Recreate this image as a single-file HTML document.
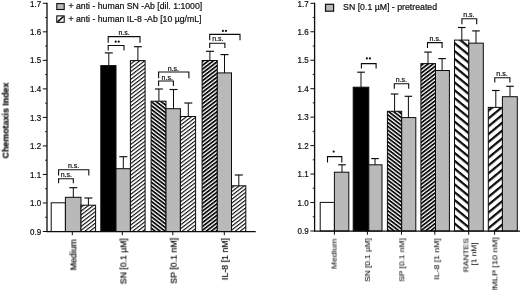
<!DOCTYPE html>
<html><head><meta charset="utf-8"><title>Chemotaxis index</title>
<style>
html,body{margin:0;padding:0;background:#fff;}
body{width:520px;height:290px;overflow:hidden;}
svg{display:block;font-family:"Liberation Sans",sans-serif;fill:#0c0c0c;}
text{filter:blur(0.3px);stroke:#0c0c0c;stroke-width:0.2px;}
text.r{stroke-width:0.05px;}
</style></head><body>
<svg width="520" height="290" viewBox="0 0 520 290">
<defs>
<pattern id="h0" patternUnits="userSpaceOnUse" width="40" height="3.043" patternTransform="translate(81.16,210.31) rotate(-37.5)"><rect x="0" y="0" width="40" height="3.043" fill="#fff"/><rect x="0" y="0" width="40" height="1.111" fill="#0c0c0c"/></pattern>
<pattern id="h1" patternUnits="userSpaceOnUse" width="40" height="3.043" patternTransform="translate(130.16,67.46) rotate(-37.5)"><rect x="0" y="0" width="40" height="3.043" fill="#fff"/><rect x="0" y="0" width="40" height="1.111" fill="#0c0c0c"/></pattern>
<pattern id="h2" patternUnits="userSpaceOnUse" width="40" height="3.043" patternTransform="translate(152.14,105.09) rotate(37.5)"><rect x="0" y="0" width="40" height="3.043" fill="#fff"/><rect x="0" y="0" width="40" height="1.785" fill="#0c0c0c"/></pattern>
<pattern id="h3" patternUnits="userSpaceOnUse" width="40" height="3.043" patternTransform="translate(180.66,120.46) rotate(-37.5)"><rect x="0" y="0" width="40" height="3.043" fill="#fff"/><rect x="0" y="0" width="40" height="1.111" fill="#0c0c0c"/></pattern>
<pattern id="h4" patternUnits="userSpaceOnUse" width="40" height="3.043" patternTransform="translate(202.16,64.49) rotate(-37.5)"><rect x="0" y="0" width="40" height="3.043" fill="#fff"/><rect x="0" y="0" width="40" height="1.785" fill="#0c0c0c"/></pattern>
<pattern id="h5" patternUnits="userSpaceOnUse" width="40" height="3.043" patternTransform="translate(231.66,190.96) rotate(-37.5)"><rect x="0" y="0" width="40" height="3.043" fill="#fff"/><rect x="0" y="0" width="40" height="1.111" fill="#0c0c0c"/></pattern>
<pattern id="h6" patternUnits="userSpaceOnUse" width="40" height="3.043" patternTransform="translate(388.54,114.34) rotate(37.5)"><rect x="0" y="0" width="40" height="3.043" fill="#fff"/><rect x="0" y="0" width="40" height="1.785" fill="#0c0c0c"/></pattern>
<pattern id="h7" patternUnits="userSpaceOnUse" width="40" height="3.043" patternTransform="translate(420.96,68.39) rotate(-37.5)"><rect x="0" y="0" width="40" height="3.043" fill="#fff"/><rect x="0" y="0" width="40" height="1.785" fill="#0c0c0c"/></pattern>
<pattern id="h8" patternUnits="userSpaceOnUse" width="40" height="6.050" patternTransform="translate(455.61,113.14) rotate(39.5)"><rect x="0" y="0" width="40" height="6.050" fill="#fff"/><rect x="0" y="0" width="40" height="2.238" fill="#0c0c0c"/></pattern>
<pattern id="h9" patternUnits="userSpaceOnUse" width="40" height="6.050" patternTransform="translate(487.99,125.24) rotate(-39.5)"><rect x="0" y="0" width="40" height="6.050" fill="#fff"/><rect x="0" y="0" width="40" height="2.238" fill="#0c0c0c"/></pattern>
</defs>
<rect x="0" y="0" width="520" height="290" fill="#fff"/>
<line x1="73.3" y1="187.7" x2="73.3" y2="197.3" stroke="#0c0c0c" stroke-width="1.0"/>
<line x1="69.3" y1="187.7" x2="77.3" y2="187.7" stroke="#0c0c0c" stroke-width="1.15"/>
<line x1="88.4" y1="198" x2="88.4" y2="205.2" stroke="#0c0c0c" stroke-width="1.0"/>
<line x1="84.4" y1="198" x2="92.4" y2="198" stroke="#0c0c0c" stroke-width="1.15"/>
<line x1="108.8" y1="52.9" x2="108.8" y2="65.6" stroke="#0c0c0c" stroke-width="1.0"/>
<line x1="104.8" y1="52.9" x2="112.8" y2="52.9" stroke="#0c0c0c" stroke-width="1.15"/>
<line x1="123.3" y1="156.7" x2="123.3" y2="168.7" stroke="#0c0c0c" stroke-width="1.0"/>
<line x1="119.3" y1="156.7" x2="127.3" y2="156.7" stroke="#0c0c0c" stroke-width="1.15"/>
<line x1="137.9" y1="46.7" x2="137.9" y2="60.7" stroke="#0c0c0c" stroke-width="1.0"/>
<line x1="133.9" y1="46.7" x2="141.9" y2="46.7" stroke="#0c0c0c" stroke-width="1.15"/>
<line x1="158.9" y1="89" x2="158.9" y2="101.4" stroke="#0c0c0c" stroke-width="1.0"/>
<line x1="154.9" y1="89" x2="162.9" y2="89" stroke="#0c0c0c" stroke-width="1.15"/>
<line x1="173.5" y1="89.5" x2="173.5" y2="108.9" stroke="#0c0c0c" stroke-width="1.0"/>
<line x1="169.5" y1="89.5" x2="177.5" y2="89.5" stroke="#0c0c0c" stroke-width="1.15"/>
<line x1="188.3" y1="103" x2="188.3" y2="116.7" stroke="#0c0c0c" stroke-width="1.0"/>
<line x1="184.3" y1="103" x2="192.3" y2="103" stroke="#0c0c0c" stroke-width="1.15"/>
<line x1="209.9" y1="51.3" x2="209.9" y2="60.6" stroke="#0c0c0c" stroke-width="1.0"/>
<line x1="205.9" y1="51.3" x2="213.9" y2="51.3" stroke="#0c0c0c" stroke-width="1.15"/>
<line x1="224.5" y1="54.6" x2="224.5" y2="73.5" stroke="#0c0c0c" stroke-width="1.0"/>
<line x1="220.5" y1="54.6" x2="228.5" y2="54.6" stroke="#0c0c0c" stroke-width="1.15"/>
<line x1="238.8" y1="175" x2="238.8" y2="185.8" stroke="#0c0c0c" stroke-width="1.0"/>
<line x1="234.8" y1="175" x2="242.8" y2="175" stroke="#0c0c0c" stroke-width="1.15"/>
<rect x="51.2" y="202.8" width="14.20" height="28.70" fill="#fff" stroke="#0c0c0c" stroke-width="1"/>
<rect x="65.4" y="197.3" width="15.60" height="34.20" fill="#b9b9b9" stroke="#0c0c0c" stroke-width="1"/>
<rect x="81.0" y="205.2" width="14.60" height="26.30" fill="url(#h0)" stroke="#0c0c0c" stroke-width="1"/>
<rect x="100.8" y="65.6" width="15.20" height="165.90" fill="#000" stroke="#0c0c0c" stroke-width="1"/>
<rect x="116" y="168.7" width="14.40" height="62.80" fill="#b9b9b9" stroke="#0c0c0c" stroke-width="1"/>
<rect x="130.4" y="60.6" width="14.70" height="170.90" fill="url(#h1)" stroke="#0c0c0c" stroke-width="1"/>
<rect x="151.1" y="101.2" width="14.90" height="130.30" fill="url(#h2)" stroke="#0c0c0c" stroke-width="1"/>
<rect x="166" y="108.7" width="14.40" height="122.80" fill="#b9b9b9" stroke="#0c0c0c" stroke-width="1"/>
<rect x="180.4" y="116.5" width="15.20" height="115.00" fill="url(#h3)" stroke="#0c0c0c" stroke-width="1"/>
<rect x="202.1" y="60.5" width="15.20" height="171.00" fill="url(#h4)" stroke="#0c0c0c" stroke-width="1"/>
<rect x="217.3" y="72.9" width="14.20" height="158.60" fill="#b9b9b9" stroke="#0c0c0c" stroke-width="1"/>
<rect x="231.5" y="185.8" width="14.30" height="45.70" fill="url(#h5)" stroke="#0c0c0c" stroke-width="1"/>
<line x1="46.4" y1="231.5" x2="255.7" y2="231.5" stroke="#0c0c0c" stroke-width="1.25"/>
<line x1="47" y1="2.8" x2="47" y2="232.0" stroke="#0c0c0c" stroke-width="1.3"/>
<line x1="42.8" y1="231.5" x2="47" y2="231.5" stroke="#0c0c0c" stroke-width="1.0"/>
<text x="41.1" y="234.6" font-size="8.4" text-anchor="end" font-weight="normal" textLength="11.1" lengthAdjust="spacingAndGlyphs">0.9</text>
<line x1="45.1" y1="217.2375" x2="47" y2="217.2375" stroke="#0c0c0c" stroke-width="0.9"/>
<line x1="42.8" y1="202.975" x2="47" y2="202.975" stroke="#0c0c0c" stroke-width="1.0"/>
<text x="41.1" y="206.075" font-size="8.4" text-anchor="end" font-weight="normal" textLength="11.1" lengthAdjust="spacingAndGlyphs">1.0</text>
<line x1="45.1" y1="188.7125" x2="47" y2="188.7125" stroke="#0c0c0c" stroke-width="0.9"/>
<line x1="42.8" y1="174.45" x2="47" y2="174.45" stroke="#0c0c0c" stroke-width="1.0"/>
<text x="41.1" y="177.54999999999998" font-size="8.4" text-anchor="end" font-weight="normal" textLength="11.1" lengthAdjust="spacingAndGlyphs">1.1</text>
<line x1="45.1" y1="160.1875" x2="47" y2="160.1875" stroke="#0c0c0c" stroke-width="0.9"/>
<line x1="42.8" y1="145.925" x2="47" y2="145.925" stroke="#0c0c0c" stroke-width="1.0"/>
<text x="41.1" y="149.025" font-size="8.4" text-anchor="end" font-weight="normal" textLength="11.1" lengthAdjust="spacingAndGlyphs">1.2</text>
<line x1="45.1" y1="131.66250000000002" x2="47" y2="131.66250000000002" stroke="#0c0c0c" stroke-width="0.9"/>
<line x1="42.8" y1="117.4" x2="47" y2="117.4" stroke="#0c0c0c" stroke-width="1.0"/>
<text x="41.1" y="120.5" font-size="8.4" text-anchor="end" font-weight="normal" textLength="11.1" lengthAdjust="spacingAndGlyphs">1.3</text>
<line x1="45.1" y1="103.1375" x2="47" y2="103.1375" stroke="#0c0c0c" stroke-width="0.9"/>
<line x1="42.8" y1="88.875" x2="47" y2="88.875" stroke="#0c0c0c" stroke-width="1.0"/>
<text x="41.1" y="91.975" font-size="8.4" text-anchor="end" font-weight="normal" textLength="11.1" lengthAdjust="spacingAndGlyphs">1.4</text>
<line x1="45.1" y1="74.6125" x2="47" y2="74.6125" stroke="#0c0c0c" stroke-width="0.9"/>
<line x1="42.8" y1="60.35000000000002" x2="47" y2="60.35000000000002" stroke="#0c0c0c" stroke-width="1.0"/>
<text x="41.1" y="63.450000000000024" font-size="8.4" text-anchor="end" font-weight="normal" textLength="11.1" lengthAdjust="spacingAndGlyphs">1.5</text>
<line x1="45.1" y1="46.08750000000002" x2="47" y2="46.08750000000002" stroke="#0c0c0c" stroke-width="0.9"/>
<line x1="42.8" y1="31.825000000000017" x2="47" y2="31.825000000000017" stroke="#0c0c0c" stroke-width="1.0"/>
<text x="41.1" y="34.92500000000002" font-size="8.4" text-anchor="end" font-weight="normal" textLength="11.1" lengthAdjust="spacingAndGlyphs">1.6</text>
<line x1="45.1" y1="17.562500000000018" x2="47" y2="17.562500000000018" stroke="#0c0c0c" stroke-width="0.9"/>
<line x1="42.8" y1="3.3000000000000114" x2="47" y2="3.3000000000000114" stroke="#0c0c0c" stroke-width="1.0"/>
<text x="41.1" y="6.900000000000011" font-size="8.4" text-anchor="end" font-weight="normal" textLength="11.1" lengthAdjust="spacingAndGlyphs">1.7</text>
<line x1="72.3" y1="231.5" x2="72.3" y2="235.2" stroke="#0c0c0c" stroke-width="1.0"/>
<line x1="122.3" y1="231.5" x2="122.3" y2="235.2" stroke="#0c0c0c" stroke-width="1.0"/>
<line x1="172.8" y1="231.5" x2="172.8" y2="235.2" stroke="#0c0c0c" stroke-width="1.0"/>
<line x1="224.3" y1="231.5" x2="224.3" y2="235.2" stroke="#0c0c0c" stroke-width="1.0"/>
<polyline points="58.6,175.6 58.6,169.8 88.8,169.8 88.8,175.6" fill="none" stroke="#0c0c0c" stroke-width="1.1"/>
<polyline points="58.6,183.3 58.6,178.7 73.3,178.7 73.3,183.3" fill="none" stroke="#0c0c0c" stroke-width="1.1"/>
<polyline points="108.2,42.8 108.2,36.6 140,36.6 140,42.8" fill="none" stroke="#0c0c0c" stroke-width="1.1"/>
<polyline points="108.2,50.6 108.2,45.5 124,45.5 124,50.6" fill="none" stroke="#0c0c0c" stroke-width="1.1"/>
<polyline points="158.6,78.2 158.6,72 188.9,72 188.9,78.2" fill="none" stroke="#0c0c0c" stroke-width="1.1"/>
<polyline points="158.6,86 158.6,81 173.4,81 173.4,86" fill="none" stroke="#0c0c0c" stroke-width="1.1"/>
<polyline points="209.7,40.2 209.7,34.4 240,34.4 240,40.2" fill="none" stroke="#0c0c0c" stroke-width="1.1"/>
<polyline points="209.7,47.9 209.7,43.3 224.9,43.3 224.9,47.9" fill="none" stroke="#0c0c0c" stroke-width="1.1"/>
<text x="73.6" y="167.8" font-size="7.0" text-anchor="middle" font-weight="normal" >n.s.</text>
<text x="66.3" y="176.8" font-size="7.0" text-anchor="middle" font-weight="normal" >n.s.</text>
<text x="124.1" y="35.0" font-size="7.0" text-anchor="middle" font-weight="normal" >n.s.</text>
<circle cx="115.68" cy="41.7" r="1.08" fill="#0c0c0c"/>
<circle cx="118.72" cy="41.7" r="1.08" fill="#0c0c0c"/>
<text x="173.3" y="70.5" font-size="7.0" text-anchor="middle" font-weight="normal" >n.s.</text>
<text x="167.2" y="79.7" font-size="7.0" text-anchor="middle" font-weight="normal" >n.s.</text>
<circle cx="222.88" cy="30.9" r="1.08" fill="#0c0c0c"/>
<circle cx="225.92000000000002" cy="30.9" r="1.08" fill="#0c0c0c"/>
<text x="217.8" y="41.4" font-size="7.0" text-anchor="middle" font-weight="normal" >n.s.</text>
<rect x="56.8" y="3.6" width="7.4" height="5.9" fill="#b9b9b9" stroke="#0c0c0c" stroke-width="1.1"/>
<rect x="56.8" y="15.9" width="7.4" height="6.4" fill="#fff" stroke="#0c0c0c" stroke-width="1.1"/>
<line x1="57.5" y1="21.8" x2="63.5" y2="16.5" stroke="#0c0c0c" stroke-width="1.6"/>
<text x="68.5" y="9.2" font-size="8.7" text-anchor="start" font-weight="normal" textLength="133.7" lengthAdjust="spacingAndGlyphs">+ anti - human SN -Ab [dil. 1:1000]</text>
<text x="68.5" y="21.9" font-size="8.7" text-anchor="start" font-weight="normal" textLength="133.0" lengthAdjust="spacingAndGlyphs">+ anti - human IL-8 -Ab [10 µg/mL]</text>
<text transform="translate(76.4,239.3) rotate(-90)" font-size="8.6" text-anchor="end" font-weight="normal" textLength="31.0" lengthAdjust="spacingAndGlyphs">Medium</text>
<text transform="translate(126.4,238.3) rotate(-90)" font-size="8.6" text-anchor="end" font-weight="normal" textLength="45.9" lengthAdjust="spacingAndGlyphs">SN [0.1 µM]</text>
<text transform="translate(176.7,237.8) rotate(-90)" font-size="8.6" text-anchor="end" font-weight="normal" textLength="45.9" lengthAdjust="spacingAndGlyphs">SP [0.1 nM]</text>
<text transform="translate(227.9,238.1) rotate(-90)" font-size="8.6" text-anchor="end" font-weight="normal" textLength="41.9" lengthAdjust="spacingAndGlyphs">IL-8 [1 nM]</text>
<text transform="translate(8.6,120.5) rotate(-90)" font-size="8.4" text-anchor="middle" font-weight="bold" textLength="76" lengthAdjust="spacingAndGlyphs">Chemotaxis Index</text>
<line x1="342" y1="164.8" x2="342" y2="172.2" stroke="#0c0c0c" stroke-width="1.0"/>
<line x1="338.2" y1="164.8" x2="345.8" y2="164.8" stroke="#0c0c0c" stroke-width="1.15"/>
<line x1="361" y1="72.2" x2="361" y2="87.2" stroke="#0c0c0c" stroke-width="1.0"/>
<line x1="357.2" y1="72.2" x2="364.8" y2="72.2" stroke="#0c0c0c" stroke-width="1.15"/>
<line x1="375" y1="158.6" x2="375" y2="164.8" stroke="#0c0c0c" stroke-width="1.0"/>
<line x1="371.2" y1="158.6" x2="378.8" y2="158.6" stroke="#0c0c0c" stroke-width="1.15"/>
<line x1="394.6" y1="94" x2="394.6" y2="111.4" stroke="#0c0c0c" stroke-width="1.0"/>
<line x1="390.8" y1="94" x2="398.40000000000003" y2="94" stroke="#0c0c0c" stroke-width="1.15"/>
<line x1="408.4" y1="96.3" x2="408.4" y2="117.6" stroke="#0c0c0c" stroke-width="1.0"/>
<line x1="404.59999999999997" y1="96.3" x2="412.2" y2="96.3" stroke="#0c0c0c" stroke-width="1.15"/>
<line x1="428.0" y1="52.1" x2="428.0" y2="63.7" stroke="#0c0c0c" stroke-width="1.0"/>
<line x1="424.2" y1="52.1" x2="431.8" y2="52.1" stroke="#0c0c0c" stroke-width="1.15"/>
<line x1="442.1" y1="58.6" x2="442.1" y2="70.5" stroke="#0c0c0c" stroke-width="1.0"/>
<line x1="438.3" y1="58.6" x2="445.90000000000003" y2="58.6" stroke="#0c0c0c" stroke-width="1.15"/>
<line x1="461.8" y1="27.5" x2="461.8" y2="40.1" stroke="#0c0c0c" stroke-width="1.0"/>
<line x1="458.0" y1="27.5" x2="465.6" y2="27.5" stroke="#0c0c0c" stroke-width="1.15"/>
<line x1="476.0" y1="30.9" x2="476.0" y2="43.4" stroke="#0c0c0c" stroke-width="1.0"/>
<line x1="472.2" y1="30.9" x2="479.8" y2="30.9" stroke="#0c0c0c" stroke-width="1.15"/>
<line x1="495.8" y1="90.5" x2="495.8" y2="107.4" stroke="#0c0c0c" stroke-width="1.0"/>
<line x1="492.0" y1="90.5" x2="499.6" y2="90.5" stroke="#0c0c0c" stroke-width="1.15"/>
<line x1="510" y1="86.3" x2="510" y2="96.7" stroke="#0c0c0c" stroke-width="1.0"/>
<line x1="506.2" y1="86.3" x2="513.8" y2="86.3" stroke="#0c0c0c" stroke-width="1.15"/>
<rect x="320.2" y="202.4" width="14.20" height="28.60" fill="#fff" stroke="#0c0c0c" stroke-width="1"/>
<rect x="334.4" y="172.2" width="14.40" height="58.80" fill="#b9b9b9" stroke="#0c0c0c" stroke-width="1"/>
<rect x="353.2" y="87.2" width="15.60" height="143.80" fill="#000" stroke="#0c0c0c" stroke-width="1"/>
<rect x="368.8" y="164.8" width="13.20" height="66.20" fill="#b9b9b9" stroke="#0c0c0c" stroke-width="1"/>
<rect x="387.4" y="111.3" width="14.30" height="119.70" fill="url(#h6)" stroke="#0c0c0c" stroke-width="1"/>
<rect x="401.7" y="117.6" width="14.10" height="113.40" fill="#b9b9b9" stroke="#0c0c0c" stroke-width="1"/>
<rect x="420.9" y="63.6" width="14.60" height="167.40" fill="url(#h7)" stroke="#0c0c0c" stroke-width="1"/>
<rect x="435.5" y="70.5" width="13.90" height="160.50" fill="#b9b9b9" stroke="#0c0c0c" stroke-width="1"/>
<rect x="454.5" y="40.1" width="14.30" height="190.90" fill="url(#h8)" stroke="#0c0c0c" stroke-width="1"/>
<rect x="468.8" y="43.15" width="14.50" height="187.85" fill="#b9b9b9" stroke="#0c0c0c" stroke-width="1"/>
<rect x="488.3" y="107.4" width="14.10" height="123.60" fill="url(#h9)" stroke="#0c0c0c" stroke-width="1"/>
<rect x="502.4" y="96.7" width="14.90" height="134.30" fill="#b9b9b9" stroke="#0c0c0c" stroke-width="1"/>
<line x1="314.0" y1="231.0" x2="520" y2="231.0" stroke="#0c0c0c" stroke-width="1.25"/>
<line x1="314.6" y1="2.8" x2="314.6" y2="231.5" stroke="#0c0c0c" stroke-width="1.3"/>
<line x1="310.40000000000003" y1="231.0" x2="314.6" y2="231.0" stroke="#0c0c0c" stroke-width="1.0"/>
<text x="308.70000000000005" y="234.1" font-size="8.4" text-anchor="end" font-weight="normal" textLength="11.1" lengthAdjust="spacingAndGlyphs">0.9</text>
<line x1="312.70000000000005" y1="216.7375" x2="314.6" y2="216.7375" stroke="#0c0c0c" stroke-width="0.9"/>
<line x1="310.40000000000003" y1="202.5375" x2="314.6" y2="202.5375" stroke="#0c0c0c" stroke-width="1.0"/>
<text x="308.70000000000005" y="205.6375" font-size="8.4" text-anchor="end" font-weight="normal" textLength="11.1" lengthAdjust="spacingAndGlyphs">1.0</text>
<line x1="312.70000000000005" y1="188.275" x2="314.6" y2="188.275" stroke="#0c0c0c" stroke-width="0.9"/>
<line x1="310.40000000000003" y1="174.075" x2="314.6" y2="174.075" stroke="#0c0c0c" stroke-width="1.0"/>
<text x="308.70000000000005" y="177.17499999999998" font-size="8.4" text-anchor="end" font-weight="normal" textLength="11.1" lengthAdjust="spacingAndGlyphs">1.1</text>
<line x1="312.70000000000005" y1="159.8125" x2="314.6" y2="159.8125" stroke="#0c0c0c" stroke-width="0.9"/>
<line x1="310.40000000000003" y1="145.6125" x2="314.6" y2="145.6125" stroke="#0c0c0c" stroke-width="1.0"/>
<text x="308.70000000000005" y="148.7125" font-size="8.4" text-anchor="end" font-weight="normal" textLength="11.1" lengthAdjust="spacingAndGlyphs">1.2</text>
<line x1="312.70000000000005" y1="131.35000000000002" x2="314.6" y2="131.35000000000002" stroke="#0c0c0c" stroke-width="0.9"/>
<line x1="310.40000000000003" y1="117.15" x2="314.6" y2="117.15" stroke="#0c0c0c" stroke-width="1.0"/>
<text x="308.70000000000005" y="120.25" font-size="8.4" text-anchor="end" font-weight="normal" textLength="11.1" lengthAdjust="spacingAndGlyphs">1.3</text>
<line x1="312.70000000000005" y1="102.8875" x2="314.6" y2="102.8875" stroke="#0c0c0c" stroke-width="0.9"/>
<line x1="310.40000000000003" y1="88.6875" x2="314.6" y2="88.6875" stroke="#0c0c0c" stroke-width="1.0"/>
<text x="308.70000000000005" y="91.7875" font-size="8.4" text-anchor="end" font-weight="normal" textLength="11.1" lengthAdjust="spacingAndGlyphs">1.4</text>
<line x1="312.70000000000005" y1="74.425" x2="314.6" y2="74.425" stroke="#0c0c0c" stroke-width="0.9"/>
<line x1="310.40000000000003" y1="60.22500000000002" x2="314.6" y2="60.22500000000002" stroke="#0c0c0c" stroke-width="1.0"/>
<text x="308.70000000000005" y="63.325000000000024" font-size="8.4" text-anchor="end" font-weight="normal" textLength="11.1" lengthAdjust="spacingAndGlyphs">1.5</text>
<line x1="312.70000000000005" y1="45.96250000000002" x2="314.6" y2="45.96250000000002" stroke="#0c0c0c" stroke-width="0.9"/>
<line x1="310.40000000000003" y1="31.762500000000017" x2="314.6" y2="31.762500000000017" stroke="#0c0c0c" stroke-width="1.0"/>
<text x="308.70000000000005" y="34.86250000000002" font-size="8.4" text-anchor="end" font-weight="normal" textLength="11.1" lengthAdjust="spacingAndGlyphs">1.6</text>
<line x1="312.70000000000005" y1="17.500000000000018" x2="314.6" y2="17.500000000000018" stroke="#0c0c0c" stroke-width="0.9"/>
<line x1="310.40000000000003" y1="3.3000000000000114" x2="314.6" y2="3.3000000000000114" stroke="#0c0c0c" stroke-width="1.0"/>
<text x="308.70000000000005" y="6.900000000000011" font-size="8.4" text-anchor="end" font-weight="normal" textLength="11.1" lengthAdjust="spacingAndGlyphs">1.7</text>
<line x1="334.4" y1="231.0" x2="334.4" y2="234.7" stroke="#0c0c0c" stroke-width="1.0"/>
<line x1="367.4" y1="231.0" x2="367.4" y2="234.7" stroke="#0c0c0c" stroke-width="1.0"/>
<line x1="401.5" y1="231.0" x2="401.5" y2="234.7" stroke="#0c0c0c" stroke-width="1.0"/>
<line x1="434.8" y1="231.0" x2="434.8" y2="234.7" stroke="#0c0c0c" stroke-width="1.0"/>
<line x1="468.7" y1="231.0" x2="468.7" y2="234.7" stroke="#0c0c0c" stroke-width="1.0"/>
<line x1="494.6" y1="231.0" x2="494.6" y2="234.7" stroke="#0c0c0c" stroke-width="1.0"/>
<polyline points="327.5,162.5 327.5,156.6 341.8,156.6 341.8,162.5" fill="none" stroke="#0c0c0c" stroke-width="1.1"/>
<polyline points="361.4,68.6 361.4,63.6 376.1,63.6 376.1,68.6" fill="none" stroke="#0c0c0c" stroke-width="1.1"/>
<polyline points="394.3,88.8 394.3,83.8 408.7,83.8 408.7,88.8" fill="none" stroke="#0c0c0c" stroke-width="1.1"/>
<polyline points="427.5,48 427.5,42.6 442.1,42.6 442.1,48" fill="none" stroke="#0c0c0c" stroke-width="1.1"/>
<polyline points="461.9,24.3 461.9,18.8 476.7,18.8 476.7,24.3" fill="none" stroke="#0c0c0c" stroke-width="1.1"/>
<polyline points="494.8,82.6 494.8,77.8 509.9,77.8 509.9,82.6" fill="none" stroke="#0c0c0c" stroke-width="1.1"/>
<circle cx="333.7" cy="151.6" r="1.08" fill="#0c0c0c"/>
<circle cx="366.88" cy="58.4" r="1.08" fill="#0c0c0c"/>
<circle cx="369.91999999999996" cy="58.4" r="1.08" fill="#0c0c0c"/>
<text x="401.4" y="82.2" font-size="7.0" text-anchor="middle" font-weight="normal" >n.s.</text>
<text x="435.2" y="40.6" font-size="7.0" text-anchor="middle" font-weight="normal" >n.s.</text>
<text x="468.9" y="16.9" font-size="7.0" text-anchor="middle" font-weight="normal" >n.s.</text>
<text x="502" y="76.0" font-size="7.0" text-anchor="middle" font-weight="normal" >n.s.</text>
<rect x="325.5" y="4.3" width="8.1" height="6.9" fill="#b9b9b9" stroke="#0c0c0c" stroke-width="1.2"/>
<text x="343.1" y="10.3" font-size="8.7" text-anchor="start" font-weight="normal" textLength="94.0" lengthAdjust="spacingAndGlyphs">SN [0.1 µM] - pretreated</text>
<text transform="translate(336.6,238.7) rotate(-90)" font-size="7.5" text-anchor="end" font-weight="normal" textLength="30.2" lengthAdjust="spacingAndGlyphs" class="r">Medium</text>
<text transform="translate(370.0,238.3) rotate(-90)" font-size="7.5" text-anchor="end" font-weight="normal" textLength="43.5" lengthAdjust="spacingAndGlyphs" class="r">SN [0.1 µM]</text>
<text transform="translate(404.3,238.3) rotate(-90)" font-size="7.5" text-anchor="end" font-weight="normal" textLength="43.5" lengthAdjust="spacingAndGlyphs" class="r">SP [0.1 nM]</text>
<text transform="translate(439.2,238.3) rotate(-90)" font-size="7.5" text-anchor="end" font-weight="normal" textLength="41.4" lengthAdjust="spacingAndGlyphs" class="r">IL-8 [1 nM]</text>
<text transform="translate(468.4,255.3) rotate(-90)" font-size="7.5" text-anchor="middle" font-weight="normal" textLength="34.1" lengthAdjust="spacingAndGlyphs" class="r">RANTES</text>
<text transform="translate(476.4,254) rotate(-90)" font-size="7.5" text-anchor="middle" font-weight="normal" textLength="23.2" lengthAdjust="spacingAndGlyphs" class="r">[1 nM]</text>
<text transform="translate(497.4,237.3) rotate(-90)" font-size="7.5" text-anchor="end" font-weight="normal" textLength="54.0" lengthAdjust="spacingAndGlyphs" class="r">fMLP [10 nM]</text>
</svg>
</body></html>
